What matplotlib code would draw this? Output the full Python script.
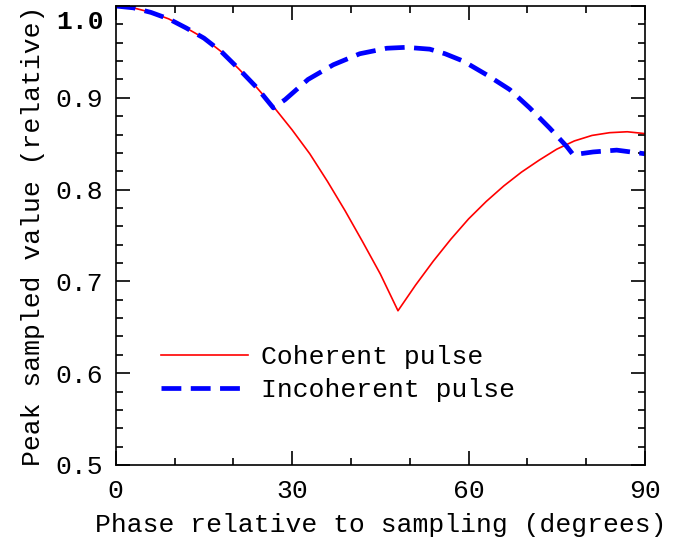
import matplotlib
matplotlib.use('Agg')
import matplotlib.pyplot as plt
from matplotlib.ticker import MultipleLocator, FuncFormatter

# data (phase in degrees, relative peak value)
coh_phase = [0.0, 3.0, 6.0, 9.0, 12.0, 15.0, 18.0, 21.0, 24.0, 27.0, 30.0,
             33.0, 36.0, 39.0, 42.0, 45.0, 48.0, 51.0, 54.0, 57.0, 60.0,
             63.0, 66.0, 69.0, 72.0, 75.0, 78.0, 81.0, 84.0, 87.0, 90.0]
coh_value = [1.000, 0.998, 0.993, 0.986, 0.976, 0.965, 0.950, 0.931, 0.911,
             0.889, 0.865, 0.839, 0.809, 0.777, 0.743, 0.708, 0.668, 0.696,
             0.722, 0.746, 0.768, 0.787, 0.804, 0.819, 0.832, 0.844, 0.853,
             0.859, 0.862, 0.863, 0.861]

inc_phase = [0.0, 3.0, 6.0, 9.0, 12.0, 15.0, 18.0, 21.0, 24.0, 26.8,
             28.8, 32.7, 37.0, 41.5, 46.1, 49.4, 53.4, 56.0, 59.1, 63.1,
             67.0, 70.4, 73.8, 76.7, 77.8, 81.2, 85.2, 90.0]
inc_value = [1.000, 0.998, 0.993, 0.986, 0.976, 0.965, 0.950, 0.931, 0.911,
             0.889, 0.898, 0.920, 0.936, 0.948, 0.954, 0.955, 0.953, 0.948,
             0.940, 0.925, 0.909, 0.889, 0.867, 0.847, 0.838, 0.841, 0.843,
             0.839]

FONT = 'Liberation Mono'
FS = 19
plt.rcParams['font.family'] = FONT
plt.rcParams['font.size'] = FS

fig = plt.figure(figsize=(6.81, 5.47), dpi=100)
ax = fig.add_axes([0.170, 0.150, 0.777, 0.839])

ax.plot(coh_phase, coh_value, color='red', linewidth=1.2, label='Coherent pulse')
ax.plot(inc_phase, inc_value, color='blue', linewidth=3.4, dashes=(4.2, 2),
        dash_capstyle='butt', label='Incoherent pulse')

ax.set_xlim(0, 90)
ax.set_ylim(0.5, 1.0)
ax.xaxis.set_major_locator(MultipleLocator(30))
ax.xaxis.set_minor_locator(MultipleLocator(10))
ax.yaxis.set_major_locator(MultipleLocator(0.1))
ax.yaxis.set_minor_locator(MultipleLocator(0.02))
# the top label is drawn separately, a bit lower and heavier, as in the original
ax.yaxis.set_major_formatter(FuncFormatter(lambda v, _: '' if v > 0.99 else f'{v:.1f}'))
ax.tick_params(which='both', direction='in', top=True, right=True,
               width=1.2, labelsize=FS)
ax.tick_params(axis='y', pad=9)
ax.tick_params(axis='x', pad=10)
ax.tick_params(which='major', length=10)
ax.tick_params(which='minor', length=5)
for s in ax.spines.values():
    s.set_linewidth(1.2)
ax.text(-0.023, 0.992, '1.0', transform=ax.transAxes, ha='right', va='top',
        fontsize=FS, fontweight='bold')

ax.set_xlabel('Phase relative to sampling (degrees)', fontsize=FS, labelpad=7)
ax.set_ylabel('Peak sampled value (relative)', fontsize=FS, labelpad=8)

ax.legend(loc='upper left', bbox_to_anchor=(0.06, 0.29), frameon=False,
          handlelength=3.3, handletextpad=0.5, labelspacing=0.35,
          borderpad=0, fontsize=FS)

fig.savefig('out.png', dpi=100)
